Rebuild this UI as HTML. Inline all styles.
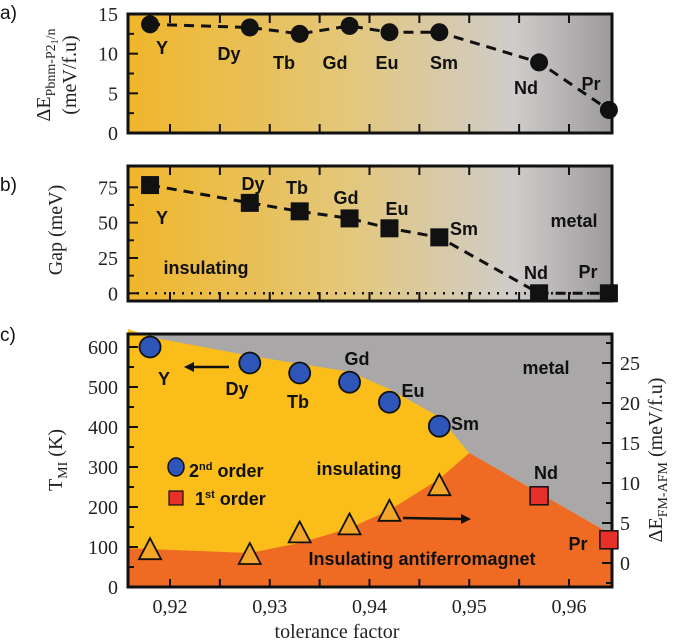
<!DOCTYPE html>
<html><head><meta charset="utf-8"><style>
html,body{margin:0;padding:0;background:#fff;}
svg{display:block;}
.lbl{font-family:"Liberation Sans",sans-serif;font-weight:bold;font-size:18px;fill:#111;}
.let{font-family:"Liberation Sans",sans-serif;font-size:19px;fill:#111;}
.tk{font-family:"Liberation Serif",serif;font-size:20px;fill:#222;}
.ttl{font-family:"Liberation Serif",serif;font-size:20px;fill:#222;}
</style></head><body>
<svg id="fig" width="675" height="642" viewBox="0 0 675 642" xmlns="http://www.w3.org/2000/svg">
<defs>
<linearGradient id="gab" x1="0" x2="1" y1="0" y2="0">
<stop offset="0" stop-color="#f0b62a"/><stop offset="0.45" stop-color="#e3c77a"/><stop offset="0.8" stop-color="#cfcccb"/><stop offset="1" stop-color="#9d9a9c"/>
</linearGradient>
</defs>
<g id="root"></g>
</svg>
<script>
const elements = ["Y","Dy","Tb","Gd","Eu","Sm","Nd","Pr"];
const tolerance = [0.918,0.928,0.933,0.938,0.942,0.947,0.957,0.964];
const energyA = [13.7,13.3,12.5,13.5,12.7,12.7,8.9,2.9];
const gapB = [76.6,64,58,53,46,39.6,0,0];
const tmiC = [600,560,535,512,462,402];
const tmiFirst = [228,118];
const afmC = [1.6,1.0,3.7,4.7,6.4,9.6];
const xTicks = [0.92,0.93,0.94,0.95,0.96];
const xTickLabels = ["0,92","0,93","0,94","0,95","0,96"];
const aTicks = [0,5,10,15];
const bTicks = [0,25,50,75];
const cTicks = [0,100,200,300,400,500,600];
const rTicks = [0,5,10,15,20,25];
const orangeBoundT = [0.9158,0.928,0.933,0.938,0.942,0.947,0.950,0.9642];
const orangeBoundV = [97,85,110,147,192,270,335,132];
const grayBoundT = [0.9158,0.918,0.928,0.933,0.938,0.942,0.947,0.950];
const grayBoundV = [645,625,578,558,538,495,425,335];

const NS="http://www.w3.org/2000/svg";
const root=document.getElementById('root');
function mk(tag,attrs,parent,text){const e=document.createElementNS(NS,tag);for(const k in attrs)e.setAttribute(k,attrs[k]);if(text!==undefined)e.textContent=text;(parent||root).appendChild(e);return e;}
const L=128,R=612;
const xs=t=>170+(t-0.92)*9975;
// ---------- Panel a ----------
const aTop=14,aBot=133;const ya=v=>aBot-v/15*(aBot-aTop);
let ga=mk('g',{});


let bg=mk('rect',{x:L,y:aTop,width:R-L,height:aBot-aTop,fill:'url(#gab)'},ga);


function frameTicks(g,top,bot,yf,ticks,minor){
  for(let t=0.92;t<0.9645;t+=0.005){const x=xs(t);const len=9;
    mk('line',{x1:x,x2:x,y1:bot,y2:bot-len,stroke:'#111','stroke-width':2},g);
    mk('line',{x1:x,x2:x,y1:top,y2:top+len,stroke:'#111','stroke-width':2},g);}
  ticks.forEach(v=>{mk('line',{x1:L,x2:L+10,y1:yf(v),y2:yf(v),stroke:'#111','stroke-width':2},g);
    const tl=mk('text',{x:L-10,y:yf(v)+7,'text-anchor':'end',class:'tk'},g,String(v));
    
    });
  minor.forEach(v=>mk('line',{x1:L,x2:L+6,y1:yf(v),y2:yf(v),stroke:'#111','stroke-width':2},g));
  mk('rect',{x:L,y:top,width:R-L,height:bot-top,fill:'none',stroke:'#111','stroke-width':3},g);
}
frameTicks(ga,aTop,aBot,ya,aTicks,[2.5,7.5,12.5]);
mk('polyline',{points:tolerance.map((t,i)=>xs(t)+','+ya(energyA[i])).join(' '),fill:'none',stroke:'#111','stroke-width':3,'stroke-dasharray':'10,7'},ga);
tolerance.forEach((t,i)=>{const c=mk('circle',{cx:xs(t),cy:ya(energyA[i]),r:9,fill:'#111'},ga);
  
  });
const aLab=[[162,54],[229,60],[284,69],[335,69],[387,69],[444,69],[526,94],[591,90]];
elements.forEach((e,i)=>{const t=mk('text',{x:aLab[i][0],y:aLab[i][1],'text-anchor':'middle',class:'lbl'},ga,e);
  
  });
let ta=mk('text',{transform:'translate(50,75) rotate(-90)','text-anchor':'middle',class:'ttl'},ga);
ta.innerHTML='ΔE<tspan font-size="14" dy="5">Pbnm-P2</tspan><tspan font-size="10" dy="3">1</tspan><tspan font-size="14" dy="-3">/n</tspan>';


let ta2=mk('text',{transform:'translate(76,75) rotate(-90)','text-anchor':'middle',class:'ttl'},ga,'(meV/f.u)');


let la=mk('text',{x:0,y:19,class:'let'},ga,'a)');



// ---------- Panel b ----------
const bTop=166,bBot=301;const yb=v=>293.3-v*1.413;
let gb=mk('g',{});


let bgb=mk('rect',{x:L,y:bTop,width:R-L,height:bBot-bTop,fill:'url(#gab)'},gb);


mk('line',{x1:L,x2:R,y1:yb(0),y2:yb(0),stroke:'#111','stroke-width':2.5,'stroke-dasharray':'2,7'},gb);
frameTicks(gb,bTop,bBot,yb,bTicks,[12.5,37.5,62.5]);
mk('polyline',{points:tolerance.map((t,i)=>xs(t)+','+yb(gapB[i])).join(' '),fill:'none',stroke:'#111','stroke-width':3,'stroke-dasharray':'10,7'},gb);
tolerance.forEach((t,i)=>{const s=mk('rect',{x:xs(t)-9,y:yb(gapB[i])-9,width:18,height:18,fill:'#111'},gb);
  
  });
const bLab=[[162,224],[253,190],[297,194],[346,204],[397,215],[464,235],[536,279],[588,278]];
elements.forEach((e,i)=>{const t=mk('text',{x:bLab[i][0],y:bLab[i][1],'text-anchor':'middle',class:'lbl'},gb,e);
  
  });
[['metal',574,227],['insulating',206,274]].forEach(a=>{const t=mk('text',{x:a[1],y:a[2],'text-anchor':'middle',class:'lbl'},gb,a[0]);
  
  });
let tb=mk('text',{transform:'translate(62,230) rotate(-90)','text-anchor':'middle',class:'ttl'},gb,'Gap (meV)');


let lb=mk('text',{x:0,y:191,class:'let'},gb,'b)');



// ---------- Panel c ----------
const cTop=334,cBot=587;const yc=v=>587-v*0.4;const yr=v=>563-v*8;
let gc=mk('g',{});


let gr=mk('rect',{x:L,y:cTop,width:R-L,height:cBot-cTop,fill:'#a9a7a8'},gc);


let yel=mk('polygon',{points:grayBoundT.map((t,i)=>xs(t)+','+yc(grayBoundV[i])).join(' ')+' '+xs(0.9642)+','+yc(132)+' '+R+','+cBot+' '+L+','+cBot,fill:'#fbbd19'},gc);


let ora=mk('polygon',{points:orangeBoundT.map((t,i)=>xs(t)+','+yc(orangeBoundV[i])).join(' ')+' '+R+','+cBot+' '+L+','+cBot,fill:'#ef6a22'},gc);


cTicks.forEach(v=>{mk('line',{x1:L,x2:L+10,y1:yc(v),y2:yc(v),stroke:'#111','stroke-width':2},gc);
  const tl=mk('text',{x:L-10,y:yc(v)+7,'text-anchor':'end',class:'tk'},gc,String(v));
  
  });
[50,150,250,350,450,550].forEach(v=>mk('line',{x1:L,x2:L+6,y1:yc(v),y2:yc(v),stroke:'#111','stroke-width':2},gc));
rTicks.forEach(v=>{mk('line',{x1:R,x2:R-10,y1:yr(v),y2:yr(v),stroke:'#111','stroke-width':2},gc);
  const tl=mk('text',{x:R+8,y:yr(v)+7,class:'tk'},gc,String(v));
  
  });
[-2.5,2.5,7.5,12.5,17.5,22.5,27.5].forEach(v=>mk('line',{x1:R,x2:R-6,y1:yr(v),y2:yr(v),stroke:'#111','stroke-width':2},gc));
for(let t=0.92;t<0.9645;t+=0.005){const x=xs(t);mk('line',{x1:x,x2:x,y1:cBot,y2:cBot-8,stroke:'#111','stroke-width':2},gc);}
xTicks.forEach((t,i)=>{const tl=mk('text',{x:xs(t),y:613,'text-anchor':'middle',class:'tk'},gc,xTickLabels[i]);
  
  });
mk('rect',{x:L,y:cTop,width:R-L,height:cBot-cTop,fill:'none',stroke:'#111','stroke-width':3},gc);
afmC.forEach((v,i)=>{const x=xs(tolerance[i]),y=yr(v);
  const p=mk('polygon',{points:`${x},${y-12} ${x-11},${y+9} ${x+11},${y+9}`,fill:'#f2a72a',stroke:'#111','stroke-width':1.8},gc);
  
  });
tmiC.forEach((v,i)=>{const c=mk('circle',{cx:xs(tolerance[i]),cy:yc(v),r:10.5,fill:'#2e56b8',stroke:'#111','stroke-width':1.8},gc);
  
  });
tmiFirst.forEach((v,i)=>{const x=xs(tolerance[6+i]);const s=mk('rect',{x:x-9,y:yc(v)-9,width:18,height:18,fill:'#e8302a',stroke:'#111','stroke-width':1.5},gc);
  
  });
mk('line',{x1:229,x2:192,y1:367,y2:367,stroke:'#111','stroke-width':2.5},gc);
mk('polygon',{points:'184,367 194,362 194,372',fill:'#111'},gc);
mk('line',{x1:403,x2:462,y1:518,y2:519,stroke:'#111','stroke-width':2.5},gc);
mk('polygon',{points:'471,519 461,514 461,524',fill:'#111'},gc);
const cLab=[[164,385],[237,395],[298,408],[357,365],[413,397],[465,430],[546,479],[578,550]];
const cNames=["Y","Dy","Tb","Gd","Eu","Sm","Nd","Pr"];
cNames.forEach((e,i)=>{const t=mk('text',{x:cLab[i][0],y:cLab[i][1],'text-anchor':'middle',class:'lbl'},gc,e);
  
  });
[['metal',546,374,'metal-label'],['insulating',359,475,'insulating-label'],['Insulating antiferromagnet',422,565,'afm-label']].forEach(a=>{const t=mk('text',{x:a[1],y:a[2],'text-anchor':'middle',class:'lbl','font-size':'19'},gc,a[0]);
  
  });
let lg=mk('g',{},gc);


mk('ellipse',{cx:176,cy:467,rx:8,ry:9,fill:'#2e56b8',stroke:'#111','stroke-width':1.5},lg);
let l1=mk('text',{x:189,y:477,class:'lbl','font-size':'19'},lg);
l1.innerHTML='2<tspan font-size="11" dy="-7">nd</tspan><tspan dy="7"> order</tspan>';


mk('rect',{x:169,y:491,width:14,height:14,fill:'#e8302a',stroke:'#111','stroke-width':1.2},lg);
let l2=mk('text',{x:195,y:505,class:'lbl','font-size':'19'},lg);
l2.innerHTML='1<tspan font-size="11" dy="-7">st</tspan><tspan dy="7"> order</tspan>';


let tc=mk('text',{transform:'translate(62,460) rotate(-90)','text-anchor':'middle',class:'ttl'},gc);
tc.innerHTML='T<tspan font-size="14" dy="5">MI</tspan><tspan dy="-5"> (K)</tspan>';


let tr=mk('text',{transform:'translate(662,460) rotate(-90)','text-anchor':'middle',class:'ttl'},gc);
tr.innerHTML='ΔE<tspan font-size="14" dy="5">FM-AFM</tspan><tspan dy="-5"> (meV/f.u)</tspan>';


let tx=mk('text',{x:337,y:638,'text-anchor':'middle',class:'ttl'},gc,'tolerance factor');


let lc=mk('text',{x:0,y:341,class:'let'},gc,'c)');


</script>
</body></html>
